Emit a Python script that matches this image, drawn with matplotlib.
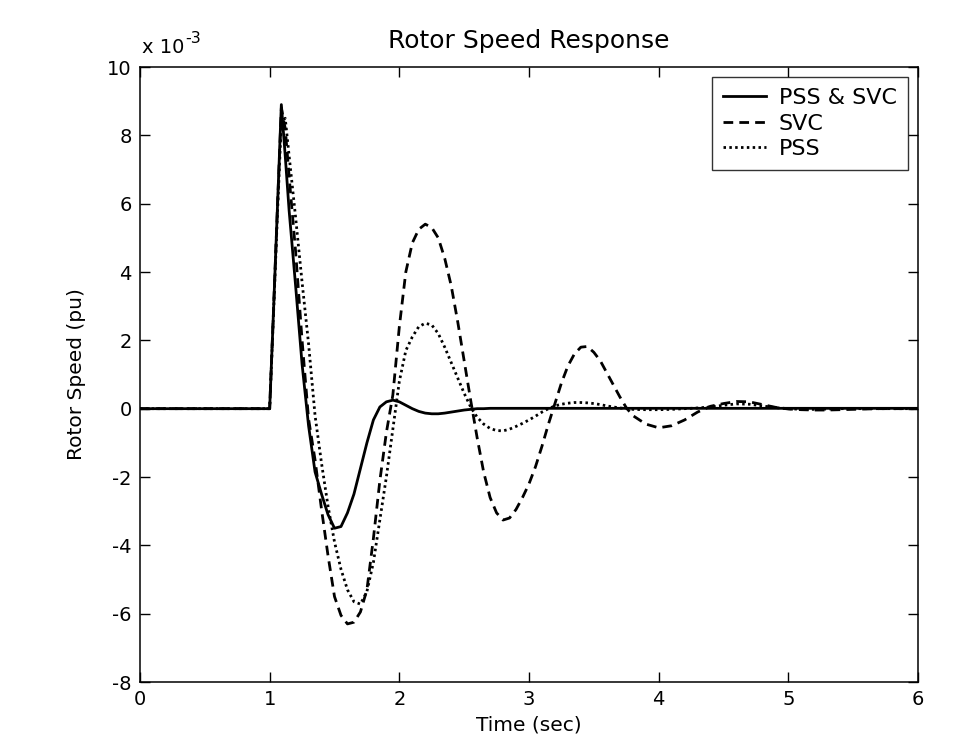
import matplotlib
matplotlib.use("Agg")
import matplotlib.pyplot as plt

plt.rcParams["font.family"] = ["DejaVu Sans"]
plt.rcParams["axes.unicode_minus"] = False

# time samples (sec)
time = [0.0, 1.00, 1.03, 1.06, 1.09, 1.12, 1.15,
        1.20, 1.25, 1.30, 1.35, 1.40, 1.45, 1.50, 1.55, 1.60, 1.65, 1.70, 1.75, 1.80, 1.85, 1.90, 1.95,
        2.00, 2.05, 2.10, 2.15, 2.20, 2.25, 2.30, 2.35, 2.40, 2.45, 2.50, 2.55, 2.60, 2.65, 2.70, 2.75,
        2.80, 2.85, 2.90, 2.95,
        3.00, 3.05, 3.10, 3.15, 3.20, 3.25, 3.30, 3.35, 3.40, 3.45, 3.50, 3.55, 3.60, 3.65, 3.70, 3.75, 3.80,
        3.90, 4.00, 4.10, 4.20, 4.30, 4.40, 4.50, 4.60, 4.70, 4.80, 4.90, 5.00, 5.10, 5.20, 5.30, 5.40,
        5.50, 5.60, 5.70, 5.80, 5.90, 6.00]

# rotor speed deviation, x 10^-3 pu
pss_svc = [0, 0, 2.9, 5.9, 8.9, 7.4, 5.8,
           3.6, 1.3, -0.5, -1.85, -2.5, -3.1, -3.5, -3.45, -3.05, -2.5, -1.75, -1.0, -0.33, 0.05, 0.2, 0.25,
           0.2, 0.1, 0.0, -0.08, -0.13, -0.15, -0.15, -0.13, -0.1, -0.07, -0.04, -0.02, 0.0, 0.0, 0.01, 0.01,
           0.01, 0.01, 0.01, 0.01,
           0.01, 0.01, 0.01, 0.01, 0.01, 0.01, 0.01, 0.01, 0.01, 0.01, 0.01, 0.01, 0.01, 0.01, 0.01, 0.01, 0.01,
           0.01, 0.01, 0.01, 0.01, 0.01, 0.01, 0.01, 0.01, 0.01, 0.01, 0.01, 0.01, 0.01, 0.01, 0.01, 0.01,
           0.01, 0.01, 0.01, 0.01, 0.01, 0.01]

svc = [0, 0, 2.9, 5.9, 8.8, 8.2, 6.8,
       4.6, 2.0, -0.3, -1.5, -2.95, -4.3, -5.5, -6.05, -6.3, -6.25, -5.95, -5.3, -3.8, -2.1, -0.7, 0.4,
       2.4, 4.0, 4.85, 5.25, 5.4, 5.3, 5.0, 4.4, 3.6, 2.55, 1.4, 0.25, -0.85, -1.85, -2.6, -3.05,
       -3.26, -3.2, -2.95, -2.6,
       -2.2, -1.7, -1.1, -0.45, 0.15, 0.75, 1.25, 1.6, 1.8, 1.82, 1.65, 1.4, 1.05, 0.7, 0.35, 0.03, -0.2,
       -0.45, -0.56, -0.5, -0.33, -0.1, 0.07, 0.15, 0.21, 0.2, 0.12, 0.04, -0.01, -0.03, -0.04, -0.04, -0.03,
       -0.02, -0.01, 0.0, 0.0, 0.0, 0.0]

pss = [0, 0, 2.8, 5.7, 8.4, 8.5, 7.4,
       5.6, 3.7, 1.9, -0.2, -1.6, -2.85, -3.9, -4.7, -5.3, -5.65, -5.72, -5.35, -4.5, -3.25, -2.0, -0.6,
       0.8, 1.7, 2.1, 2.4, 2.5, 2.45, 2.2, 1.8, 1.35, 0.9, 0.45, 0.05, -0.25, -0.45, -0.58, -0.64,
       -0.65, -0.6, -0.52, -0.43,
       -0.33, -0.22, -0.1, 0.0, 0.08, 0.13, 0.16, 0.18, 0.18, 0.17, 0.15, 0.12, 0.08, 0.05, 0.02, 0.0, -0.02,
       -0.03, -0.03, -0.02, 0.0, 0.02, 0.05, 0.1, 0.14, 0.13, 0.08, 0.03, 0.0, -0.02, -0.02, -0.01, 0.0,
       0.0, 0.0, 0.0, 0.0, 0.0, 0.0]

labels = ["PSS & SVC", "SVC", "PSS"]
xticks = [0, 1, 2, 3, 4, 5, 6]
yticks = [-8, -6, -4, -2, 0, 2, 4, 6, 8, 10]

fig = plt.figure(figsize=(9.61, 7.46), dpi=100)
ax = fig.add_axes([140 / 961, 1 - 682 / 746, 778 / 961, 615 / 746])

ax.plot(time, pss_svc, color="black", lw=2.0, linestyle="-", label=labels[0])
ax.plot(time, svc, color="black", lw=2.0, linestyle=(0, (3.5, 2.2)), label=labels[1])
ax.plot(time, pss, color="black", lw=2.0, linestyle=(0, (0.9, 1.2)), label=labels[2])

ax.set_xlim(0, 6)
ax.set_ylim(-8, 10)
ax.set_xticks(xticks)
ax.set_yticks(yticks)
ax.tick_params(direction="in", length=7, width=1.0, top=True, right=True,
               labelsize=14, pad=6, colors="black")
for sp in ax.spines.values():
    sp.set_linewidth(1.1)
    sp.set_color("black")

ax.set_title("Rotor Speed Response", fontsize=18, pad=13.5)
ax.set_xlabel("Time (sec)", fontsize=14.5, labelpad=4.5)
ax.set_ylabel("Rotor Speed (pu)", fontsize=14.5)
ax.yaxis.set_label_coords(-0.069, 0.5)

# exponent label above the y axis
ax.text(0.0026, 1.023, "x 10", transform=ax.transAxes, fontsize=14, ha="left", va="baseline")
ax.text(0.058, 1.039, "-3", transform=ax.transAxes, fontsize=11.5, ha="left", va="baseline")

leg = ax.legend(loc="upper right", fontsize=16, frameon=True, fancybox=False,
                edgecolor="black", handlelength=1.9, borderaxespad=0.45,
                labelspacing=0.25, handletextpad=0.6, borderpad=0.5)
leg.get_frame().set_linewidth(1.0)

fig.savefig("out.png", dpi=100, facecolor="white")
